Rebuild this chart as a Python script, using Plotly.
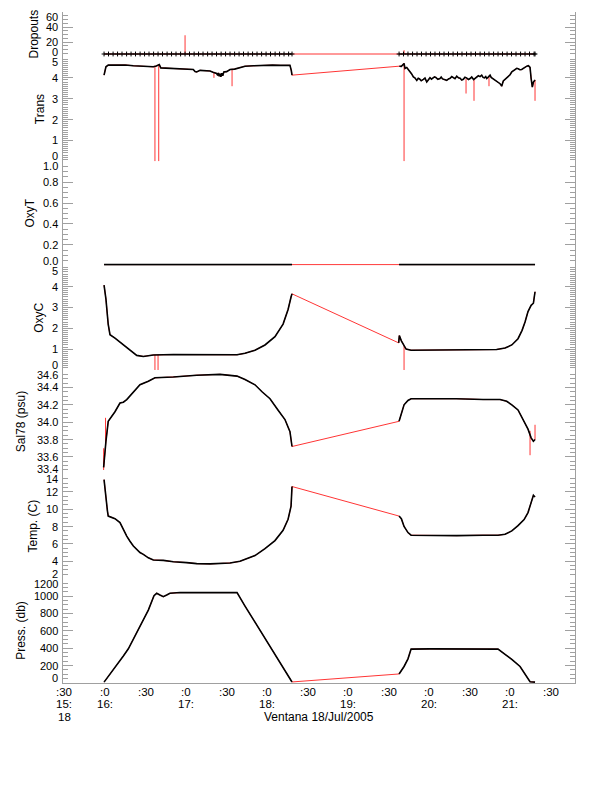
import pandas as pd
import plotly.graph_objects as go
from plotly.subplots import make_subplots

BASE = pd.Timestamp("2005-07-18 15:00:00")

# ---------------- data (times in minutes after 15:00) ----------------
drop_t1 = [59.3, 62.6, 66.0, 69.3, 72.6, 76.0, 79.3, 82.6, 86.0, 89.3, 92.6, 96.0, 99.3, 102.6,
           106.0, 109.3, 112.6, 116.0, 119.3, 122.6, 126.0, 129.3, 132.6, 136.0, 139.3, 142.6,
           146.0, 149.3, 152.6, 156.0, 159.3, 162.6, 166.0, 169.3, 172.6, 176.0, 179.3, 182.6,
           186.0, 189.3, 192.6, 196.0, 198.5]
drop_v1 = [4] * len(drop_t1)
drop_t2 = [277.8, 281.1, 284.4, 287.8, 291.1, 294.4, 297.8, 301.1, 304.4, 307.8, 311.1, 314.4,
           317.8, 321.1, 324.4, 327.8, 331.1, 334.4, 337.8, 341.1, 344.4, 347.8, 351.1, 354.4,
           357.8, 361.1, 364.4, 367.8, 371.1, 374.4, 377.8, 378.5]
drop_v2 = [4] * len(drop_t2)
drop_spk_t = [119.3, 281.5]
drop_spk_lo = [4, 4]
drop_spk_hi = [29, 9]

trans_t1 = [59.3, 60.7, 62.4, 66.0, 70.0, 75.0, 81.0, 86.0, 90.9, 95.8, 98.0, 100.2, 101.3, 105.0,
            110.0, 114.0, 118.0, 122.0, 125.4, 126.7, 127.9, 130.4, 134.0, 137.8, 140.0, 142.7,
            143.5, 144.0, 144.6, 145.2, 145.8, 146.5, 147.2, 148.0, 150.1, 152.6, 156.0, 160.0,
            163.7, 170.0, 177.3, 184.0, 190.0, 197.0, 198.0, 198.5]
trans_v1 = [4.13, 4.53, 4.61, 4.62, 4.60, 4.62, 4.58, 4.57, 4.53, 4.53, 4.57, 4.64, 4.48, 4.47,
            4.45, 4.46, 4.42, 4.43, 4.40, 4.30, 4.28, 4.36, 4.34, 4.33, 4.27, 4.21, 4.12, 4.24,
            4.08, 4.20, 4.05, 4.22, 4.10, 4.28, 4.30, 4.40, 4.42, 4.50, 4.56, 4.58, 4.61, 4.61,
            4.60, 4.60, 4.35, 4.13]
trans_t2 = [278.0, 279.5, 281.5, 282.2, 283.5, 285.0, 285.9, 287.0, 288.4, 289.5, 290.9, 292.0,
            293.0, 294.2, 295.8, 297.0, 298.3, 299.4, 300.7, 301.8, 303.0, 304.0, 305.0, 306.5,
            308.1, 309.0, 310.0, 311.5, 313.1, 314.4, 315.6, 316.8, 318.0, 319.2, 320.5, 321.8,
            323.0, 324.2, 325.4, 326.6, 328.0, 329.2, 330.4, 331.6, 333.0, 334.2, 335.3, 336.5,
            337.8, 339.0, 340.0, 341.0, 342.0, 342.7, 344.0, 345.2, 346.0, 347.0, 348.0, 348.9,
            350.0, 351.1, 352.0, 352.6, 353.3, 353.8, 355.0, 356.2, 357.5, 358.7, 360.0, 361.3,
            362.5, 363.7, 365.0, 366.0, 367.3, 368.6, 370.0, 371.1, 372.4, 373.6, 374.8, 375.6,
            376.5, 377.3, 378.0, 378.5]
trans_v2 = [4.56, 4.55, 4.69, 4.45, 4.50, 4.38, 4.29, 4.20, 4.05, 4.00, 3.88, 3.98,
            3.95, 3.86, 3.93, 3.99, 3.80, 3.92, 4.01, 3.94, 3.98, 4.05, 4.02, 3.93,
            3.97, 4.04, 3.95, 3.90, 3.88, 3.95, 3.98, 4.06, 4.02, 3.96, 4.08, 4.00,
            3.98, 3.90, 3.93, 4.03, 3.99, 3.92, 3.97, 4.04, 3.92, 3.98, 4.01, 4.10,
            4.06, 4.13, 4.02, 4.00, 4.06, 3.97, 4.05, 4.13, 4.02, 3.98, 3.92, 3.88,
            3.84, 3.80, 3.76, 3.72, 3.66, 3.60, 3.85, 3.92, 3.97, 4.08, 4.15, 4.29,
            4.36, 4.42, 4.46, 4.44, 4.39, 4.40, 4.47, 4.53, 4.56, 4.58, 4.50, 3.97,
            3.56, 3.80, 3.88, 3.90]
trans_spk_t = [97.0, 99.8, 140.7, 154.1, 281.5, 327.4, 333.3, 344.4, 378.5]
trans_spk_lo = [0.0, 0.0, 4.0, 3.6, 0.0, 3.25, 2.9, 3.6, 2.9]
trans_spk_hi = [4.58, 4.62, 4.27, 4.40, 4.69, 3.95, 3.95, 4.05, 3.9]

oxyt_t1 = [59.3, 100.0, 150.0, 198.5]
oxyt_v1 = [0.01, 0.01, 0.01, 0.01]
oxyt_t2 = [277.8, 320.0, 378.5]
oxyt_v2 = [0.01, 0.01, 0.01]

oxyc_t1 = [59.3, 60.7, 62.4, 63.7, 67.4, 73.6, 78.5, 83.5, 88.4, 95.8, 110.6, 130.4, 150.1,
           157.8, 163.7, 171.1, 178.5, 185.9, 191.9, 195.6, 197.8, 198.5]
oxyc_v1 = [4.07, 3.40, 2.18, 1.69, 1.53, 1.20, 0.95, 0.70, 0.65, 0.72, 0.74, 0.74, 0.73,
           0.73, 0.80, 0.95, 1.20, 1.60, 2.20, 2.90, 3.50, 3.65]
oxyc_t2 = [277.5, 278.0, 279.5, 281.5, 283.0, 286.7, 300.7, 320.0, 340.0, 350.0, 356.3, 361.3,
           365.9, 368.9, 371.1, 373.3, 375.6, 377.3, 378.5]
oxyc_v2 = [1.30, 1.65, 1.40, 1.15, 1.00, 0.95, 0.95, 0.95, 0.96, 0.98, 1.05, 1.20,
           1.50, 1.90, 2.30, 2.80, 3.10, 3.20, 3.75]
oxyc_spk_t = [97.0, 99.3, 281.5]
oxyc_spk_lo = [0.0, 0.0, 0.0]
oxyc_spk_hi = [0.72, 0.72, 1.15]

sal_t1 = [59.0, 59.8, 60.7, 62.4, 65.9, 67.4, 71.1, 73.6, 76.1, 78.5, 81.0, 85.9, 92.1, 97.0,
          110.6, 127.9, 145.2, 157.8, 163.7, 171.1, 176.3, 182.2, 188.1, 193.3, 197.0, 198.5]
sal_v1 = [33.48, 33.65, 33.78, 34.01, 34.08, 34.12, 34.22, 34.23, 34.26, 34.30, 34.35, 34.43,
          34.47, 34.51, 34.52, 34.54, 34.55, 34.53, 34.49, 34.43, 34.35, 34.27, 34.14, 34.03,
          33.89, 33.72]
sal_t2 = [277.8, 279.5, 281.5, 284.4, 286.7, 300.0, 320.0, 340.0, 352.6, 357.5, 361.3, 365.9,
          370.4, 373.3, 375.6, 377.3, 378.5]
sal_v2 = [34.01, 34.10, 34.20, 34.25, 34.27, 34.27, 34.27, 34.26, 34.26, 34.24, 34.20, 34.14,
          34.00, 33.92, 33.82, 33.78, 33.80]
sal_spk_t = [59.0, 60.4, 374.8, 378.5]
sal_spk_lo = [33.45, 33.70, 33.62, 33.80]
sal_spk_hi = [33.70, 34.05, 33.90, 33.97]

temp_t1 = [59.3, 60.7, 61.8, 62.4, 65.9, 67.4, 71.1, 73.6, 76.1, 78.5, 81.0, 85.9, 88.4, 92.1,
           95.8, 103.2, 110.6, 120.5, 127.9, 137.8, 145.2, 152.6, 160.0, 171.1, 178.5, 185.9,
           191.9, 195.6, 197.8, 198.5]
temp_v1 = [13.4, 11.0, 9.8, 9.2, 8.95, 8.9, 8.45, 7.6, 6.9, 6.3, 5.76, 5.0, 4.8, 4.4,
           4.15, 4.1, 3.95, 3.85, 3.73, 3.70, 3.72, 3.80, 4.00, 4.66, 5.46, 6.38,
           7.56, 8.83, 10.33, 12.6]
temp_t2 = [277.8, 279.5, 281.5, 284.4, 286.7, 300.7, 320.5, 340.0, 351.1, 356.3, 361.3, 365.9,
           370.4, 373.3, 375.6, 377.3, 378.5]
temp_v2 = [9.2, 8.9, 8.0, 7.3, 7.0, 6.95, 6.95, 7.0, 7.0, 7.1, 7.5, 8.1,
           8.8, 9.6, 10.8, 11.6, 11.4]

pres_t1 = [59.3, 63.7, 68.7, 73.6, 77.3, 81.0, 85.9, 90.9, 92.1, 96.3, 98.3, 100.7, 103.2,
           105.7, 108.1, 115.6, 130.4, 145.2, 157.8, 163.7, 171.1, 176.3, 178.5, 182.2, 188.1,
           193.3, 198.5]
pres_v1 = [10, 100, 200, 310, 394, 503, 650, 801, 838, 1005, 1032, 1012, 993,
           1012, 1032, 1040, 1042, 1041, 1040, 885, 698, 568, 522, 429, 278,
           151, 12]
pres_t2 = [277.8, 281.5, 284.4, 286.7, 300.7, 320.5, 340.0, 351.1, 356.3, 361.5, 367.4, 371.1,
           374.8, 378.5]
pres_v2 = [104, 190, 278, 390, 392, 392, 390, 390, 330, 270, 190, 110, 15, 10]

# x tick labels (one list per text line)
xtick_minutes = [30, 60, 90, 120, 150, 180, 210, 240, 270, 300, 330, 360, 390]
xtick_line1 = [":30", ":0", ":30", ":0", ":30", ":0", ":30", ":0", ":30", ":0", ":30", ":0", ":30"]
xtick_line2 = ["15:", "16:", "", "17:", "", "18:", "", "19:", "", "20:", "", "21:", ""]
xtick_line3 = ["18", "", "", "", "", "", "", "", "", "", "", "", ""]

panels = [
    dict(name="Dropouts", rng=[0, 60], dtick=20, minor=5,
         ticks=[0, 20, 40, 60], labels=["0", "20", "40", "60"], title_x=34),
    dict(name="Trans", rng=[0, 5], dtick=1, minor=0.1,
         ticks=[0, 1, 2, 3, 4, 5], labels=["0", "1", "2", "3", "4", "5"], title_x=40),
    dict(name="OxyT", rng=[0, 1], dtick=0.2, minor=0.05,
         ticks=[0, 0.2, 0.4, 0.6, 0.8, 1.0], labels=["0.0", "0.2", "0.4", "0.6", "0.8", "1.0"], title_x=30),
    dict(name="OxyC", rng=[0, 5], dtick=1, minor=0.1,
         ticks=[0, 1, 2, 3, 4, 5], labels=["0", "1", "2", "3", "4", "5"], title_x=39),
    dict(name="Sal78 (psu)", rng=[33.4, 34.6], dtick=0.2, minor=0.05,
         ticks=[33.4, 33.6, 33.8, 34.0, 34.2, 34.4, 34.6],
         labels=["33.4", "33.6", "33.8", "34.0", "34.2", "34.4", "34.6"], title_x=21),
    dict(name="Temp. (C)", rng=[2, 14], dtick=2, minor=0.5,
         ticks=[2, 4, 6, 8, 10, 12, 14], labels=["2", "4", "6", "8", "10", "12", "14"], title_x=33),
    dict(name="Press. (db)", rng=[0, 1200], dtick=200, minor=50,
         ticks=[0, 200, 400, 600, 800, 1000, 1200],
         labels=["0", "200", "400", "600", "800", "1000", "1200"], title_x=21),
]


def T(mins):
    return [None if m is None else BASE + pd.Timedelta(minutes=m) for m in mins]


# ---------------- figure ----------------
# the page body has an 8px margin, so layout is expressed in page pixels minus 8
OFF = 8
W, H = 612 - 2 * OFF, 785 - 2 * OFF
L, R, TOP, BOT = 63 - OFF, 575 - OFF, 12 - OFF, 683 - OFF
PW, PH = R - L, BOT - TOP

fig = make_subplots(rows=7, cols=1, shared_xaxes=True, vertical_spacing=0,
                    row_heights=[45, 104.33, 104.33, 104.33, 104.33, 104.33, 104.33])

RED = "rgb(255,0,0)"
BLACK = "black"
GRAY = "rgb(160,160,160)"


def add_series(row, t1, v1, t2, v2, spk_t=None, spk_lo=None, spk_hi=None, markers=False):
    rx = T(t1 + t2)
    ry = list(v1) + list(v2)
    if spk_t:
        for st, lo, hi in zip(spk_t, spk_lo, spk_hi):
            rx += [None] + T([st, st])
            ry += [None, lo, hi]
    fig.add_trace(go.Scatter(x=rx, y=ry, mode="lines", line=dict(color=RED, width=0.8),
                             hoverinfo="skip", showlegend=False), row=row, col=1)
    bx = T(t1) + [None] + T(t2)
    by = list(v1) + [None] + list(v2)
    if markers:
        fig.add_trace(go.Scatter(x=bx, y=by, mode="lines+markers",
                                 line=dict(color=BLACK, width=1.2),
                                 marker=dict(symbol="cross-thin", size=3.5,
                                             line=dict(color=BLACK, width=1)),
                                 showlegend=False), row=row, col=1)
    else:
        fig.add_trace(go.Scatter(x=bx, y=by, mode="lines", line=dict(color=BLACK, width=1.6),
                                 showlegend=False), row=row, col=1)


add_series(1, drop_t1, drop_v1, drop_t2, drop_v2, drop_spk_t, drop_spk_lo, drop_spk_hi, markers=True)
add_series(2, trans_t1, trans_v1, trans_t2, trans_v2, trans_spk_t, trans_spk_lo, trans_spk_hi)
add_series(3, oxyt_t1, oxyt_v1, oxyt_t2, oxyt_v2)
add_series(4, oxyc_t1, oxyc_v1, oxyc_t2, oxyc_v2, oxyc_spk_t, oxyc_spk_lo, oxyc_spk_hi)
add_series(5, sal_t1, sal_v1, sal_t2, sal_v2, sal_spk_t, sal_spk_lo, sal_spk_hi)
add_series(6, temp_t1, temp_v1, temp_t2, temp_v2)
add_series(7, pres_t1, pres_v1, pres_t2, pres_v2)

xr = T([28.9, 408.1])
FONT = "Liberation Sans, Arial, Helvetica, sans-serif"

for i in range(1, 8):
    fig.update_xaxes(row=i, col=1, range=xr, showgrid=False, zeroline=False,
                     showline=(i == 7), linecolor=GRAY, linewidth=1,
                     ticks="", showticklabels=False)

annotations = []
for i, p in enumerate(panels, start=1):
    fig.update_yaxes(row=i, col=1, range=p["rng"], showgrid=False, zeroline=False,
                     showline=True, linecolor=GRAY, linewidth=1, mirror="ticks",
                     ticks="inside", ticklen=10, tickcolor=GRAY, tickwidth=1,
                     tickmode="linear", tick0=p["rng"][0], dtick=p["dtick"],
                     showticklabels=False,
                     minor=dict(ticks="inside", ticklen=5, tickcolor=GRAY, tickwidth=1,
                                dtick=p["minor"], showgrid=False))
    yref = "y" if i == 1 else f"y{i}"
    n = len(p["ticks"])
    for k, (v, lab) in enumerate(zip(p["ticks"], p["labels"])):
        shift = 5 if k == 0 else (-5 if k == n - 1 else 0)
        annotations.append(dict(x=-4 / PW, xref="paper", y=v, yref=yref, yshift=shift,
                                text=lab, showarrow=False, xanchor="right", yanchor="middle",
                                borderpad=0,
                                font=dict(size=11, color="black", family=FONT)))
    annotations.append(dict(x=(p["title_x"] - OFF - L) / PW, xref="paper", y=0.5,
                            yref=f"{yref} domain", text=p["name"], textangle=-90,
                            showarrow=False, xanchor="center", yanchor="middle",
                            font=dict(size=12, color="black", family=FONT)))

# x tick labels: three text lines below the bottom axis
for m, a, b, c in zip(xtick_minutes, xtick_line1, xtick_line2, xtick_line3):
    for txt, dy in ((a, 9), (b, 21), (c, 34)):
        if txt:
            annotations.append(dict(x=T([m])[0], xref="x7", y=0, yref="paper", yshift=-dy,
                                    text=txt, showarrow=False, xanchor="center",
                                    yanchor="middle", borderpad=0,
                                    font=dict(size=11.5, color="black", family=FONT)))

annotations.append(dict(x=0.5, xref="paper", y=0, yref="paper", yshift=-34,
                        text="Ventana 18/Jul/2005", showarrow=False, xanchor="center",
                        yanchor="middle", font=dict(size=12, color="black", family=FONT)))

fig.update_layout(width=W, height=H, autosize=False,
                  margin=dict(l=L, r=W - R, t=TOP, b=H - BOT, pad=0),
                  plot_bgcolor="white", paper_bgcolor="white",
                  annotations=annotations, showlegend=False,
                  font=dict(family=FONT, color="black"))

fig.write_html("out.html")
